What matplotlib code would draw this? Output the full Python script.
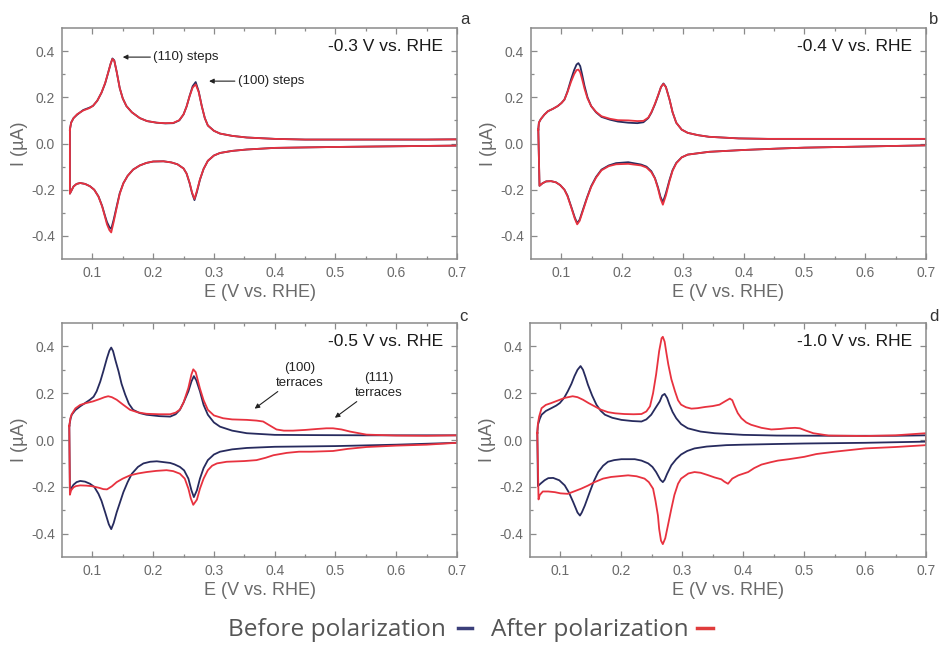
import matplotlib
matplotlib.use("Agg")
import matplotlib.pyplot as plt
from matplotlib.lines import Line2D

# ---------------- data (E in V vs. RHE, I in µA), closed CV loops ----------------
# panel a : -0.3 V vs. RHE
a_before_E = [0.063, 0.065, 0.069, 0.075, 0.085, 0.095, 0.101, 0.108, 0.115, 0.121, 0.126, 0.130, 0.133, 0.136, 0.140, 0.145, 0.150, 0.156, 0.165, 0.178, 0.190, 0.206, 0.220, 0.233, 0.243, 0.250, 0.255, 0.260, 0.265, 0.270, 0.275, 0.280, 0.285, 0.290, 0.300, 0.310, 0.330, 0.354, 0.400, 0.450, 0.550, 0.650, 0.700,
              0.700, 0.600, 0.500, 0.400, 0.354, 0.330, 0.310, 0.300, 0.290, 0.283, 0.277, 0.272, 0.268, 0.264, 0.260, 0.255, 0.250, 0.240, 0.230, 0.217, 0.200, 0.189, 0.178, 0.167, 0.158, 0.151, 0.145, 0.140, 0.135, 0.131, 0.128, 0.124, 0.121, 0.116, 0.110, 0.103, 0.096, 0.088, 0.080, 0.074, 0.069, 0.063, 0.063]
a_before_I = [0.060, 0.090, 0.110, 0.125, 0.145, 0.155, 0.163, 0.185, 0.220, 0.260, 0.307, 0.345, 0.368, 0.360, 0.310, 0.240, 0.195, 0.162, 0.135, 0.110, 0.097, 0.090, 0.087, 0.088, 0.100, 0.126, 0.160, 0.206, 0.248, 0.266, 0.225, 0.162, 0.110, 0.078, 0.055, 0.043, 0.033, 0.026, 0.020, 0.017, 0.017, 0.017, 0.018,
              -0.009, -0.012, -0.015, -0.019, -0.026, -0.032, -0.041, -0.052, -0.075, -0.110, -0.157, -0.210, -0.245, -0.215, -0.172, -0.130, -0.108, -0.090, -0.082, -0.077, -0.078, -0.084, -0.095, -0.113, -0.140, -0.172, -0.215, -0.272, -0.330, -0.370, -0.362, -0.340, -0.315, -0.270, -0.229, -0.200, -0.185, -0.175, -0.171, -0.175, -0.186, -0.217, 0.060]
a_after_E = a_before_E
a_after_I = [0.060, 0.090, 0.110, 0.127, 0.143, 0.153, 0.163, 0.185, 0.220, 0.262, 0.307, 0.345, 0.366, 0.358, 0.310, 0.240, 0.195, 0.162, 0.135, 0.110, 0.097, 0.090, 0.088, 0.089, 0.101, 0.126, 0.160, 0.205, 0.242, 0.256, 0.222, 0.162, 0.110, 0.078, 0.055, 0.043, 0.033, 0.026, 0.020, 0.017, 0.017, 0.017, 0.018,
             -0.009, -0.012, -0.015, -0.019, -0.026, -0.032, -0.041, -0.052, -0.075, -0.110, -0.155, -0.205, -0.240, -0.212, -0.170, -0.130, -0.108, -0.090, -0.082, -0.077, -0.078, -0.084, -0.095, -0.113, -0.140, -0.172, -0.218, -0.278, -0.340, -0.385, -0.375, -0.350, -0.320, -0.272, -0.230, -0.200, -0.185, -0.175, -0.171, -0.175, -0.186, -0.217, 0.060]

# panel b : -0.4 V vs. RHE
b_before_E = [0.062, 0.063, 0.066, 0.072, 0.078, 0.086, 0.094, 0.100, 0.105, 0.110, 0.116, 0.121, 0.125, 0.128, 0.131, 0.134, 0.138, 0.143, 0.149, 0.157, 0.166, 0.180, 0.193, 0.210, 0.225, 0.235, 0.243, 0.248, 0.254, 0.259, 0.264, 0.268, 0.272, 0.278, 0.283, 0.289, 0.298, 0.308, 0.325, 0.343, 0.392, 0.440, 0.550, 0.650, 0.700,
              0.700, 0.600, 0.500, 0.456, 0.400, 0.343, 0.308, 0.298, 0.289, 0.283, 0.278, 0.272, 0.267, 0.263, 0.259, 0.254, 0.248, 0.240, 0.231, 0.210, 0.190, 0.178, 0.166, 0.157, 0.149, 0.142, 0.135, 0.130, 0.126, 0.122, 0.116, 0.110, 0.105, 0.098, 0.091, 0.083, 0.075, 0.069, 0.064, 0.062]
b_before_I = [0.060, 0.090, 0.105, 0.125, 0.140, 0.150, 0.162, 0.175, 0.190, 0.225, 0.278, 0.318, 0.342, 0.348, 0.335, 0.300, 0.250, 0.200, 0.162, 0.135, 0.115, 0.103, 0.095, 0.090, 0.088, 0.092, 0.110, 0.133, 0.170, 0.206, 0.245, 0.260, 0.245, 0.190, 0.135, 0.090, 0.060, 0.046, 0.036, 0.029, 0.022, 0.020, 0.020, 0.020, 0.020,
              -0.008, -0.013, -0.018, -0.022, -0.028, -0.036, -0.048, -0.060, -0.084, -0.115, -0.157, -0.215, -0.254, -0.230, -0.190, -0.150, -0.120, -0.100, -0.091, -0.081, -0.085, -0.095, -0.113, -0.145, -0.185, -0.235, -0.290, -0.330, -0.345, -0.320, -0.272, -0.225, -0.200, -0.180, -0.168, -0.163, -0.164, -0.172, -0.183, 0.060]
b_after_E = b_before_E
b_after_I = [0.060, 0.090, 0.105, 0.125, 0.140, 0.150, 0.162, 0.175, 0.190, 0.222, 0.268, 0.300, 0.318, 0.320, 0.308, 0.280, 0.238, 0.195, 0.162, 0.137, 0.118, 0.107, 0.101, 0.100, 0.097, 0.098, 0.112, 0.135, 0.172, 0.208, 0.245, 0.258, 0.243, 0.190, 0.135, 0.090, 0.060, 0.046, 0.036, 0.029, 0.022, 0.020, 0.020, 0.020, 0.020,
             -0.008, -0.013, -0.018, -0.022, -0.028, -0.036, -0.048, -0.060, -0.086, -0.118, -0.162, -0.225, -0.265, -0.238, -0.195, -0.152, -0.124, -0.104, -0.095, -0.088, -0.090, -0.098, -0.116, -0.148, -0.188, -0.238, -0.295, -0.335, -0.350, -0.325, -0.275, -0.228, -0.200, -0.180, -0.168, -0.163, -0.164, -0.172, -0.183, 0.060]

# panel c : -0.5 V vs. RHE
c_before_E = [0.062, 0.064, 0.066, 0.072, 0.080, 0.088, 0.096, 0.102, 0.107, 0.113, 0.118, 0.124, 0.128, 0.131, 0.134, 0.138, 0.143, 0.148, 0.154, 0.160, 0.167, 0.178, 0.189, 0.210, 0.228, 0.237, 0.244, 0.250, 0.258, 0.263, 0.267, 0.271, 0.277, 0.283, 0.290, 0.300, 0.310, 0.330, 0.354, 0.400, 0.460, 0.550, 0.650, 0.700,
              0.700, 0.600, 0.500, 0.400, 0.354, 0.330, 0.310, 0.300, 0.290, 0.283, 0.277, 0.272, 0.267, 0.263, 0.258, 0.251, 0.244, 0.235, 0.228, 0.206, 0.195, 0.184, 0.175, 0.165, 0.158, 0.151, 0.145, 0.140, 0.135, 0.131, 0.127, 0.121, 0.115, 0.110, 0.103, 0.096, 0.088, 0.080, 0.074, 0.069, 0.063, 0.062]
c_before_I = [0.060, 0.090, 0.108, 0.128, 0.144, 0.158, 0.172, 0.185, 0.208, 0.250, 0.294, 0.350, 0.382, 0.395, 0.380, 0.340, 0.294, 0.240, 0.194, 0.155, 0.129, 0.115, 0.108, 0.102, 0.100, 0.110, 0.129, 0.160, 0.208, 0.250, 0.273, 0.255, 0.208, 0.150, 0.108, 0.075, 0.057, 0.040, 0.029, 0.022, 0.021, 0.020, 0.020, 0.020,
              -0.012, -0.020, -0.026, -0.029, -0.034, -0.040, -0.050, -0.062, -0.086, -0.120, -0.165, -0.215, -0.244, -0.215, -0.165, -0.130, -0.115, -0.104, -0.098, -0.091, -0.093, -0.100, -0.115, -0.144, -0.180, -0.223, -0.270, -0.309, -0.355, -0.381, -0.360, -0.309, -0.260, -0.230, -0.200, -0.187, -0.178, -0.175, -0.180, -0.191, -0.215, 0.060]
c_after_E = [0.062, 0.064, 0.066, 0.072, 0.080, 0.090, 0.101, 0.112, 0.120, 0.126, 0.132, 0.140, 0.150, 0.162, 0.175, 0.189, 0.210, 0.228, 0.237, 0.244, 0.250, 0.258, 0.263, 0.266, 0.270, 0.277, 0.283, 0.290, 0.300, 0.315, 0.330, 0.354, 0.370, 0.381, 0.390, 0.403, 0.415, 0.430, 0.450, 0.469, 0.485, 0.496, 0.510, 0.524, 0.551, 0.600, 0.650, 0.700,
             0.700, 0.650, 0.600, 0.551, 0.520, 0.496, 0.460, 0.440, 0.420, 0.398, 0.385, 0.370, 0.350, 0.321, 0.305, 0.297, 0.290, 0.283, 0.277, 0.272, 0.266, 0.262, 0.258, 0.252, 0.244, 0.233, 0.222, 0.205, 0.189, 0.175, 0.162, 0.150, 0.140, 0.132, 0.124, 0.118, 0.112, 0.104, 0.098, 0.090, 0.080, 0.073, 0.069, 0.065, 0.063, 0.062]
c_after_I = [0.060, 0.095, 0.110, 0.135, 0.150, 0.158, 0.165, 0.175, 0.183, 0.187, 0.183, 0.172, 0.152, 0.129, 0.118, 0.112, 0.110, 0.110, 0.117, 0.130, 0.160, 0.223, 0.280, 0.302, 0.290, 0.220, 0.170, 0.129, 0.105, 0.093, 0.088, 0.086, 0.083, 0.079, 0.065, 0.045, 0.040, 0.040, 0.043, 0.047, 0.050, 0.050, 0.045, 0.036, 0.023, 0.019, 0.018, 0.020,
             -0.012, -0.020, -0.024, -0.030, -0.038, -0.047, -0.050, -0.050, -0.055, -0.065, -0.076, -0.086, -0.090, -0.093, -0.100, -0.110, -0.129, -0.165, -0.208, -0.255, -0.277, -0.250, -0.208, -0.165, -0.144, -0.133, -0.129, -0.132, -0.137, -0.143, -0.151, -0.165, -0.180, -0.198, -0.211, -0.210, -0.205, -0.200, -0.197, -0.195, -0.194, -0.197, -0.202, -0.215, -0.234, 0.060]

# panel d : -1.0 V vs. RHE
d_before_E = [0.062, 0.063, 0.066, 0.069, 0.076, 0.085, 0.093, 0.099, 0.106, 0.112, 0.118, 0.123, 0.128, 0.133, 0.137, 0.141, 0.145, 0.152, 0.159, 0.166, 0.173, 0.185, 0.200, 0.218, 0.233, 0.241, 0.249, 0.256, 0.263, 0.267, 0.271, 0.275, 0.279, 0.284, 0.290, 0.298, 0.309, 0.330, 0.353, 0.400, 0.455, 0.550, 0.650, 0.700,
              0.700, 0.600, 0.500, 0.457, 0.400, 0.372, 0.340, 0.320, 0.308, 0.298, 0.290, 0.282, 0.275, 0.271, 0.268, 0.264, 0.257, 0.251, 0.244, 0.233, 0.222, 0.200, 0.188, 0.178, 0.170, 0.162, 0.155, 0.148, 0.140, 0.135, 0.132, 0.128, 0.121, 0.114, 0.107, 0.098, 0.088, 0.080, 0.074, 0.068, 0.063, 0.062]
d_before_I = [0.030, 0.065, 0.090, 0.108, 0.124, 0.136, 0.147, 0.158, 0.180, 0.208, 0.240, 0.273, 0.300, 0.316, 0.300, 0.270, 0.237, 0.190, 0.151, 0.125, 0.108, 0.095, 0.086, 0.081, 0.079, 0.088, 0.108, 0.137, 0.165, 0.190, 0.197, 0.180, 0.151, 0.120, 0.093, 0.068, 0.050, 0.036, 0.029, 0.022, 0.019, 0.018, 0.018, 0.020,
              -0.007, -0.012, -0.015, -0.017, -0.020, -0.022, -0.028, -0.036, -0.047, -0.062, -0.082, -0.108, -0.145, -0.170, -0.180, -0.170, -0.137, -0.115, -0.100, -0.088, -0.082, -0.082, -0.086, -0.093, -0.110, -0.137, -0.175, -0.223, -0.280, -0.310, -0.323, -0.310, -0.266, -0.225, -0.194, -0.172, -0.162, -0.163, -0.172, -0.185, -0.197, 0.030]
d_after_E = [0.062, 0.063, 0.065, 0.069, 0.076, 0.085, 0.095, 0.107, 0.120, 0.128, 0.137, 0.146, 0.156, 0.166, 0.178, 0.190, 0.205, 0.220, 0.233, 0.241, 0.247, 0.252, 0.257, 0.262, 0.266, 0.268, 0.271, 0.274, 0.277, 0.282, 0.288, 0.293, 0.298, 0.306, 0.315, 0.325, 0.337, 0.350, 0.361, 0.370, 0.378, 0.382, 0.386, 0.391, 0.397, 0.405, 0.413, 0.430, 0.446, 0.460, 0.471, 0.485, 0.493, 0.503, 0.515, 0.540, 0.600, 0.650, 0.700,
             0.700, 0.650, 0.600, 0.550, 0.520, 0.500, 0.475, 0.457, 0.445, 0.430, 0.418, 0.408, 0.392, 0.382, 0.375, 0.369, 0.364, 0.353, 0.342, 0.330, 0.320, 0.310, 0.304, 0.298, 0.293, 0.287, 0.282, 0.276, 0.272, 0.268, 0.265, 0.262, 0.260, 0.256, 0.252, 0.245, 0.238, 0.225, 0.211, 0.195, 0.183, 0.170, 0.156, 0.145, 0.134, 0.122, 0.112, 0.100, 0.091, 0.080, 0.071, 0.066, 0.064, 0.062]
d_after_I = [0.030, 0.070, 0.100, 0.136, 0.150, 0.158, 0.168, 0.180, 0.187, 0.183, 0.172, 0.158, 0.144, 0.130, 0.119, 0.114, 0.111, 0.110, 0.111, 0.122, 0.144, 0.200, 0.280, 0.380, 0.435, 0.441, 0.420, 0.370, 0.323, 0.260, 0.208, 0.170, 0.151, 0.140, 0.134, 0.136, 0.141, 0.145, 0.151, 0.165, 0.177, 0.170, 0.144, 0.115, 0.093, 0.075, 0.065, 0.052, 0.045, 0.047, 0.050, 0.052, 0.050, 0.040, 0.029, 0.019, 0.017, 0.020, 0.029,
             -0.022, -0.030, -0.036, -0.050, -0.060, -0.072, -0.082, -0.088, -0.095, -0.105, -0.120, -0.137, -0.151, -0.165, -0.187, -0.178, -0.168, -0.160, -0.150, -0.140, -0.137, -0.143, -0.154, -0.165, -0.187, -0.235, -0.294, -0.370, -0.420, -0.445, -0.430, -0.380, -0.323, -0.260, -0.208, -0.180, -0.165, -0.155, -0.151, -0.155, -0.158, -0.165, -0.180, -0.195, -0.208, -0.220, -0.230, -0.228, -0.223, -0.220, -0.220, -0.235, -0.254, 0.030]

panel_letters = ["a", "b", "c", "d"]
panel_titles = ["-0.3 V vs. RHE", "-0.4 V vs. RHE", "-0.5 V vs. RHE", "-1.0 V vs. RHE"]
x_ticks = [0.1, 0.2, 0.3, 0.4, 0.5, 0.6, 0.7]
y_ticks = [-0.4, -0.2, 0.0, 0.2, 0.4]
legend_labels = ["Before polarization", "After polarization"]

BLUE = "#272b5e"
RED = "#e8323f"
GREY = "#6a6a6a"
FRAME = "#8a8a8a"

fig = plt.figure(figsize=(9.4, 6.47), dpi=100)
W, H = 940, 647
boxes = [(62, 28, 457, 259), (531, 28, 926, 259), (62, 323, 457, 557), (530, 323, 926, 557)]
series = [(a_before_E, a_before_I, a_after_E, a_after_I),
          (b_before_E, b_before_I, b_after_E, b_after_I),
          (c_before_E, c_before_I, c_after_E, c_after_I),
          (d_before_E, d_before_I, d_after_E, d_after_I)]
axes = []
for k, (l, t, r, b) in enumerate(boxes):
    ax = fig.add_axes([l / W, 1 - b / H, (r - l) / W, (b - t) / H])
    axes.append(ax)
    eb, ib, ea, ia = series[k]
    ax.plot(eb, ib, color=BLUE, lw=1.3, solid_joinstyle="round")
    ax.plot(ea, ia, color=RED, lw=1.3, solid_joinstyle="round")
    ax.set_xlim(0.05, 0.70)
    ax.set_ylim(-0.5, 0.5)
    ax.set_xticks(x_ticks)
    ax.set_xticks([0.05 + 0.05 * i for i in range(1, 13)], minor=True)
    ax.set_yticks(y_ticks)
    ax.set_yticks([-0.3, -0.1, 0.1, 0.3], minor=True)
    ax.set_xticklabels([f"{v:.1f}" for v in x_ticks])
    ax.set_yticklabels([f"{v:.1f}" for v in y_ticks])
    ax.tick_params(which="both", direction="in", top=True, right=True, colors=FRAME,
                   labelcolor=GREY, labelsize=10, width=0.9)
    ax.tick_params(which="major", length=4, pad=5)
    ax.tick_params(which="minor", length=2.5)
    for s in ax.spines.values():
        s.set_color(FRAME)
        s.set_linewidth(1.1)
    for lab in ax.get_xticklabels() + ax.get_yticklabels():
        lab.set_family("Liberation Sans")
    ax.set_xlabel("E (V vs. RHE)", fontsize=13, color=GREY, family="Liberation Sans", labelpad=3)
    ax.set_ylabel("I (µA)", fontsize=13, color=GREY, family="Liberation Sans", labelpad=2)
    ax.text(0.965, 0.92, panel_titles[k], transform=ax.transAxes, ha="right", va="center",
            fontsize=12.5, color="#1a1a1a", family="Liberation Sans")

letter_pos = [(465, 19), (934, 19), (463, 316), (934, 316)]
for (x, y), s in zip(letter_pos, panel_letters):
    fig.text(x / W, 1 - y / H, s, ha="center", va="center", fontsize=12, color="#333333",
             family="Liberation Sans")

arrow = dict(arrowstyle="-|>", color="#222222", lw=0.8, mutation_scale=7, shrinkA=0, shrinkB=0)
ax = axes[0]
ax.annotate("(110) steps", xy=(0.150, 0.374), xytext=(0.200, 0.374), ha="left", va="center",
            fontsize=9.5, family="Liberation Sans", color="#222222", arrowprops=arrow)
ax.annotate("(100) steps", xy=(0.292, 0.27), xytext=(0.339, 0.27), ha="left", va="center",
            fontsize=9.5, family="Liberation Sans", color="#222222", arrowprops=arrow)
ax = axes[2]
ax.annotate("(100)\nterraces", xy=(0.367, 0.134), xytext=(0.441, 0.276), ha="center", va="center",
            fontsize=9.5, family="Liberation Sans", color="#222222", linespacing=1.3, arrowprops=arrow)
ax.annotate("(111)\nterraces", xy=(0.499, 0.095), xytext=(0.571, 0.233), ha="center", va="center",
            fontsize=9.5, family="Liberation Sans", color="#222222", linespacing=1.3, arrowprops=arrow)

# bottom legend
ly = 1 - 630 / H
dy = 1 - 628 / H
fig.text(228 / W, ly, legend_labels[0], ha="left", va="center", fontsize=17.6, color="#555555",
         family="Open Sans")
fig.text(491 / W, ly, legend_labels[1], ha="left", va="center", fontsize=17.6, color="#555555",
         family="Open Sans")
fig.add_artist(Line2D([458 / W, 472 / W], [dy, dy], color="#3b3f7a", lw=2.5, transform=fig.transFigure))
fig.add_artist(Line2D([697 / W, 713 / W], [dy, dy], color="#e03c3c", lw=2.5, transform=fig.transFigure))

fig.savefig("out.png", dpi=100, facecolor="white")
